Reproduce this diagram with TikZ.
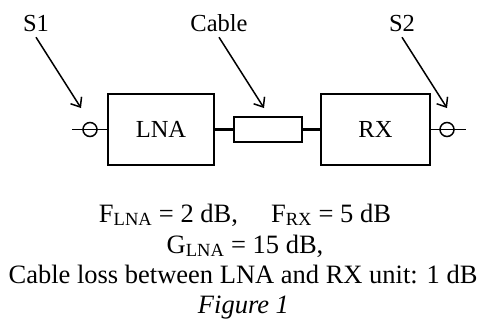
\documentclass[tikz,border=0pt]{standalone}
\usepackage{fontspec}
\setmainfont{Liberation Serif}
\usetikzlibrary{arrows.meta}
\begin{document}
\begin{tikzpicture}[x=1pt,y=-1pt]
\tikzstyle{every node}+=[inner sep=0pt,font=\fontsize{24.5}{28}\selectfont]
\tikzstyle{block}=[draw,line width=1.6pt,minimum width=106pt,minimum height=71pt]
\tikzstyle{port}=[draw,circle,line width=1.5pt,minimum size=14pt]
\tikzstyle{wire}=[line width=1.3pt]
\tikzstyle{label}=[anchor=base,outer sep=6pt]
\tikzstyle{note}=[anchor=base,font=\fontsize{26.5}{30}\selectfont]
\tikzstyle{pointer}=[line width=1.5pt,-{Straight Barb[length=8pt,width=13pt]}]
\useasboundingbox (0,0) rectangle (479,322);
\node [block] (lna) at (161,129.5) {LNA};
\node [block,minimum width=109pt] (rx) at (375.5,129.5) {RX};
\node [draw,line width=1.6pt,minimum width=68pt,minimum height=25pt] (cable) at (268,129.5) {};
\node [port] (s1port) at (90,129.5) {};
\node [port] (s2port) at (447,129.5) {};
\coordinate (inleft) at (72,129.5);
\coordinate (outright) at (466,129.5);
\draw [wire] (inleft) -- (s1port.west);
\draw [wire] (s1port.west) -- (s1port.east);
\draw [wire] (s1port.east) -- (lna.west);
\draw [line width=2.2pt] (lna.east) -- (cable.west);
\draw [line width=2.2pt] (cable.east) -- (rx.west);
\draw [wire] (rx.east) -- (s2port.west);
\draw [wire] (s2port.west) -- (s2port.east);
\draw [wire] (s2port.east) -- (outright);
\node [label] (s1) at (36,31) {S1};
\node [label] (cablelabel) at (219,31) {Cable};
\node [label] (s2) at (402,31) {S2};
\coordinate (s1tip) at (81,108);
\coordinate (cabletip) at (264,108);
\coordinate (s2tip) at (447,108);
\draw [pointer] (s1.south) -- (s1tip);
\draw [pointer] (cablelabel.south) -- (cabletip);
\draw [pointer] (s2.south) -- (s2tip);
\node [note] (noise) at (245,222) {F\textsubscript{LNA} = 2 dB,\quad\ F\textsubscript{RX} = 5 dB};
\node [note] (gain) at (245,253) {G\textsubscript{LNA} = 15 dB,};
\node [note] (loss) at (243,283) {Cable loss between LNA and RX unit: 1 dB};
\node [note] (caption) at (243.5,313) {\itshape Figure 1};
\end{tikzpicture}
\end{document}
